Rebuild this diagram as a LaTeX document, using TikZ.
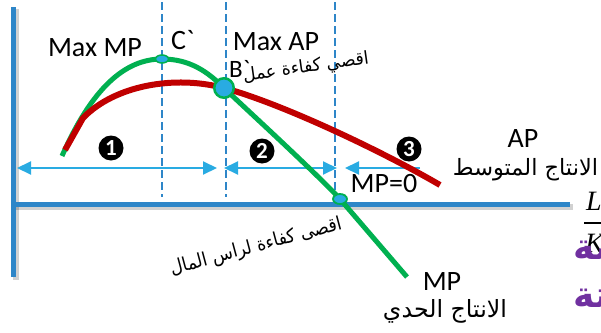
\documentclass[tikz,border=0pt]{standalone}
\usepackage{fontspec}
\setmainfont{Carlito}
\newfontfamily\arabicfont[Script=Arabic]{DejaVu Sans}
\newfontfamily\serifit{Liberation Serif}
\TeXXeTstate=1
\usetikzlibrary{arrows.meta,shapes.geometric}
\definecolor{axblue}{HTML}{2E86C8}
\definecolor{arrblue}{HTML}{29ABE2}
\definecolor{mpgreen}{HTML}{00B050}
\definecolor{apred}{HTML}{C00000}
\definecolor{purp}{HTML}{7030A0}
\tikzset{
  axisline/.style={draw=axblue, line width=5pt},
  axshadow/.style={draw=black, opacity=0.18, line width=6pt},
  guide/.style={draw=axblue, line width=1.6pt, dash pattern=on 8pt off 4pt},
  span/.style={draw=arrblue, line width=2pt, arrows={Triangle[length=14pt,width=13pt]-Triangle[length=14pt,width=13pt]}},
  spanone/.style={draw=arrblue, line width=2pt, arrows={-Triangle[length=14pt,width=13pt]}},
  mpline/.style={draw=mpgreen, line width=5pt},
  apline/.style={draw=apred, line width=6pt, line join=round},
  ptmark/.style={fill=arrblue, draw=mpgreen, inner sep=0pt},
  numdot/.style={circle, fill=black, minimum size=25pt, inner sep=0pt, text=white, font=\bfseries\fontsize{23}{23}\selectfont},
  lbl/.style={inner sep=0pt, font=\fontsize{28}{28}\selectfont},
  arab/.style={inner sep=0pt},
  purptxt/.style={inner sep=0pt, text=purp, anchor=base west, font=\fontsize{36}{36}\selectfont}
}
\begin{document}
\begin{tikzpicture}[x=1pt,y=-1pt]
\useasboundingbox (0,0) rectangle (601,332);
% coordinates
\coordinate (yT) at (13,7);
\coordinate (yB) at (13,277);
\coordinate (xL) at (13,204);
\coordinate (xR) at (570,204);
\coordinate (d1t) at (162,2);  \coordinate (d1b) at (162,197);
\coordinate (d2t) at (226,2);  \coordinate (d2b) at (226,197);
\coordinate (d3t) at (335,2);  \coordinate (d3b) at (335,198);
\coordinate (a1l) at (17,168); \coordinate (a1r) at (217,168);
\coordinate (a2l) at (224,168); \coordinate (a2r) at (337,168);
\coordinate (a3l) at (345,168); \coordinate (a3r) at (420,168);
\coordinate (g0) at (62,156);
\coordinate (gC) at (162,59);
\coordinate (gB) at (224,88);
\coordinate (gZ) at (340,199);
\coordinate (gE) at (407,277);
\coordinate (r0) at (65,150);
\coordinate (rk) at (83,118);
\coordinate (rE) at (440,185);
\coordinate (fbL) at (584,223); \coordinate (fbR) at (612,223);
% axes with shadow
\draw[axshadow] ([shift={(3,2)}]yT) -- ([shift={(3,3)}]yB);
\draw[axshadow] ([shift={(3,3)}]xL) -- ([shift={(3,3)}]xR);
\draw[axisline] (yT) -- (yB);
\draw[axisline] (xL) -- (xR);
% guides
\draw[guide] (d1t) -- (d1b);
\draw[guide] (d2t) -- (d2b);
\draw[guide] (d3t) -- (d3b);
% spans
\draw[span] (a1l) -- (a1r);
\draw[span] (a2l) -- (a2r);
\draw[spanone] (a3r) -- (a3l);
% curves
\draw[mpline] (g0) .. controls (92,88) and (125,59) .. (gC)
   .. controls (190,59) and (208,72) .. (gB)
   .. controls (245,108) and (315,172) .. (gZ) -- (gE);
\draw[apline] (r0) -- (rk) .. controls (115,85) and (175,75) .. (gB)
   .. controls (280,103) and (380,150) .. (rE);
% markers
\node[ptmark, ellipse, minimum width=13pt, minimum height=8pt, line width=1.5pt] (mC) at (gC) {};
\node[ptmark, circle, minimum size=19.5pt, line width=2.5pt] (mB) at (gB) {};
\node[ptmark, ellipse, minimum width=14pt, minimum height=10pt, line width=1.8pt] (mZ) at (gZ) {};
% numbers
\node[numdot] (n1) at (111,148) {1};
\node[numdot] (n2) at (262,151) {2};
\node[numdot] (n3) at (409,149) {3};
% labels
\node[lbl, anchor=base] (maxmp) at (95,56) {Max MP};
\node[lbl, anchor=base west] (clbl) at (171,49) {C\textasciigrave};
\node[lbl, anchor=base] (maxap) at (276,50) {Max AP};
\node[lbl, anchor=base west, font=\fontsize{25}{25}\selectfont] (blbl) at (229,77) {B\textasciigrave};
\node[lbl, anchor=base] (mp0) at (384,192) {MP=0};
\node[lbl, anchor=base] (aplbl) at (523,147) {AP};
\node[lbl, anchor=base] (mplbl) at (442,290) {MP};
\node[arab, anchor=base] (apar) at (525.5,175) {\resizebox{145pt}{!}{\arabicfont\beginR الانتاج المتوسط\endR}};
\node[arab, anchor=base] (mpar) at (445,317) {\resizebox{124pt}{!}{\arabicfont\beginR الانتاج الحدي\endR}};
\node[arab, rotate=8] (labeff) at (306,68) {\resizebox*{127pt}{18pt}{\arabicfont\beginR اقصي كفاءة عمل\endR}};
\node[arab, rotate=15] (capeff) at (256,247) {\resizebox*{177pt}{19pt}{\arabicfont\beginR اقصى كفاءة لراس المال\endR}};
% L/K
\node[inner sep=0pt, anchor=base west, font=\serifit\itshape\fontsize{28}{28}\selectfont] (Lt) at (586,210) {L};
\draw[line width=1.4pt] (fbL) -- (fbR);
\node[inner sep=0pt, anchor=base west, font=\serifit\itshape\fontsize{28}{28}\selectfont] (Kt) at (585,252) {K};
% purple fragments
\node[purptxt] (pw1) at (573,259) {\arabicfont\bfseries\beginR نسبة\endR};
\node[purptxt] (pw2) at (573,307) {\arabicfont\bfseries\beginR ثابتة\endR};
\end{tikzpicture}
\end{document}
